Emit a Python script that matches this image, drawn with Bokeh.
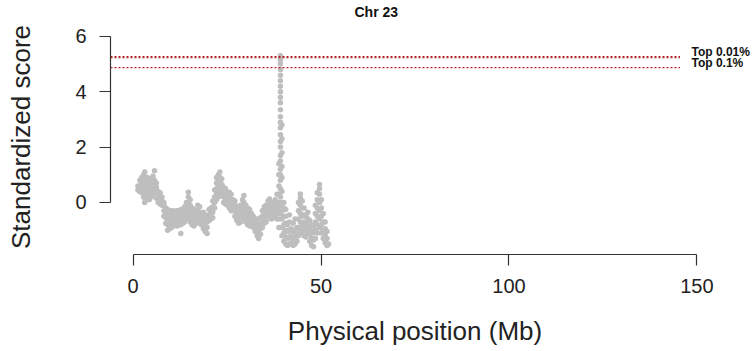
from bokeh.plotting import figure
from bokeh.models import Range1d, FixedTicker, LinearAxis
from bokeh.embed import file_html
from bokeh.resources import INLINE

# ---- data ----
positions = [1.3, 1.8, 2.3, 2.8, 3.1, 3.3, 3.8, 4.3, 4.8, 5.3, 5.7, 6.2, 6.7, 7.2, 7.7,
             8.2, 8.7, 9.2, 9.7, 10.2, 10.7, 11.2, 11.7, 12.2, 12.7, 13.2, 13.7, 14.2,
             14.7, 15.2, 15.7, 16.2, 16.7, 17.2, 17.7, 18.2, 18.7, 19.2, 19.7, 20.2,
             20.7, 21.2, 21.7, 22.2, 22.7, 23.1, 23.6, 24.1, 24.6, 25.1, 25.6, 26.1,
             26.6, 27.1, 27.6, 28.1, 28.6, 29.1, 29.5, 30.0, 30.5, 31.0, 31.5, 32.0,
             32.5, 33.0, 33.4, 33.9, 34.4, 34.9, 35.4, 35.9, 36.3, 36.8, 37.3, 37.8,
             38.3, 38.8, 39.2, 39.6, 40.1, 40.6, 41.1, 41.6, 42.1, 42.6, 43.1, 43.6,
             44.0, 44.5, 45.0, 45.5, 46.0, 46.5, 47.0, 47.5, 48.0, 48.5, 49.0, 49.6,
             50.1, 50.6, 51.1, 51.6, 52.0]

scores = [
    [0.45, 0.6],
    [0.4, 0.6, 0.8],
    [0.35, 0.55, 0.75, 0.9],
    [0.2, 0.4, 0.6, 0.8, 1.0],
    [0.0, 1.1],
    [0.1, 0.3, 0.5, 0.7, 0.9],
    [0.15, 0.35, 0.55, 0.75, 0.9],
    [0.1, 0.3, 0.5, 0.7],
    [0.2, 0.4, 0.6, 0.85],
    [0.3, 0.5, 0.7, 0.95],
    [0.8, 1.15],
    [0.15, 0.35, 0.55, 0.7],
    [0.0, 0.2, 0.4],
    [-0.05, 0.15, 0.35],
    [-0.1, 0.05, 0.2],
    [-0.5, -0.3, -0.1, 0.0],
    [-0.75, -0.55, -0.35, -0.2],
    [-1.0, -0.8, -0.6, -0.4, -0.25],
    [-0.95, -0.75, -0.55, -0.35],
    [-0.9, -0.7, -0.5, -0.3],
    [-0.85, -0.65, -0.45, -0.3],
    [-0.8, -0.6, -0.4],
    [-0.85, -0.65, -0.45, -0.3],
    [-0.8, -0.6, -0.4],
    [-1.12, -0.8, -0.6, -0.4, -0.25],
    [-0.75, -0.55, -0.35],
    [-0.7, -0.5, -0.3, -0.15],
    [-0.6, -0.4, -0.2, 0.0],
    [-0.6, -0.4, -0.2, 0.0, 0.2, 0.37],
    [-0.7, -0.5, -0.3, -0.1, 0.1],
    [-0.8, -0.6, -0.4, -0.2],
    [-0.85, -0.65, -0.45, -0.25],
    [-0.75, -0.55, -0.35],
    [-0.7, -0.5, -0.3, -0.1],
    [-0.75, -0.55, -0.35, -0.15],
    [-0.8, -0.6, -0.4],
    [-0.95, -0.75, -0.55, -0.35],
    [-1.05, -0.85, -0.65, -0.45],
    [-1.12, -0.9, -0.7, -0.5],
    [-0.65, -0.45, -0.25],
    [-0.6, -0.4, -0.2],
    [-0.55, -0.35, -0.15, 0.05],
    [-0.2, 0.0, 0.2, 0.45],
    [0.1, 0.3, 0.5, 0.7, 0.9],
    [0.2, 0.4, 0.6, 0.8, 1.0],
    [0.3, 0.5, 0.7, 0.9, 1.1],
    [0.25, 0.45, 0.65, 0.85],
    [0.0, 0.2, 0.4, 0.55],
    [-0.05, 0.15, 0.35, 0.5],
    [-0.1, 0.1, 0.3],
    [-0.2, 0.0, 0.2, 0.37],
    [-0.3, -0.1, 0.1, 0.3],
    [-0.3, -0.1, 0.1],
    [-0.5, -0.3, -0.1, 0.05],
    [-0.65, -0.45, -0.25],
    [-0.75, -0.55, -0.35, -0.15],
    [-0.7, -0.5, -0.3, -0.1],
    [-0.5, -0.3, -0.1, 0.1],
    [-0.6, -0.4, -0.2, 0.0, 0.25],
    [-0.7, -0.5, -0.3, -0.1],
    [-0.8, -0.6, -0.4, -0.2],
    [-0.85, -0.65, -0.45, -0.25],
    [-0.8, -0.6, -0.4],
    [-0.9, -0.7, -0.5],
    [-1.05, -0.85, -0.65],
    [-1.2, -1.0, -0.8, -0.6],
    [-1.3, -1.1, -0.9],
    [-1.15, -0.95, -0.75, -0.55],
    [-0.9, -0.7, -0.5, -0.3],
    [-0.75, -0.55, -0.35, -0.15],
    [-0.7, -0.5, -0.3, -0.1],
    [-0.5, -0.3, -0.1, 0.05],
    [-0.55, -0.35, -0.15, 0.13],
    [-0.6, -0.4, -0.2, 0.0],
    [-0.55, -0.35, -0.15],
    [-0.5, -0.3, -0.1, 0.1],
    [-0.6, -0.4, -0.2, 0.0, 0.3],
    [-0.9, -0.6, -0.3, 0.0, 0.3, 0.6, 1.0, 1.4],
    [-0.4, -0.1, 0.2, 0.5, 0.8, 1.0, 1.2, 1.5, 1.7, 2.0, 2.2, 2.45, 2.7, 2.9,
     3.1, 3.35, 3.6, 3.8, 4.0, 4.2, 4.4, 4.6, 4.8, 5.0, 5.15, 5.3],
    [-1.2, -0.9, -0.6, -0.3, 0.0, 0.4, 0.9, 1.3, 1.8, 2.3, 2.8],
    [-1.4, -1.1, -0.8, -0.5, -0.2, 0.0],
    [-1.5, -1.25, -1.0, -0.75, -0.5, -0.25],
    [-1.55, -1.3, -1.05, -0.8],
    [-1.5, -1.25, -1.0, -0.7, -0.45],
    [-1.45, -1.2, -0.95],
    [-1.55, -1.3, -1.05, -0.75],
    [-1.5, -1.25, -1.0, -0.6],
    [-1.4, -1.15, -0.9],
    [-1.2, -0.9, -0.6, -0.3, 0.0],
    [-1.0, -0.7, -0.4, -0.1, 0.15, 0.31],
    [-1.1, -0.8, -0.5, -0.2, 0.05],
    [-1.2, -0.95, -0.7, -0.45, -0.2],
    [-1.25, -1.0, -0.75, -0.5],
    [-1.1, -0.85, -0.6, -0.35],
    [-1.4, -1.15, -0.9, -0.65],
    [-1.55, -1.3, -1.05, -0.8],
    [-1.6, -1.35, -1.1, -0.85],
    [-1.3, -1.0, -0.7, -0.4, -0.1],
    [-1.1, -0.8, -0.5, -0.2, 0.1, 0.35],
    [-0.9, -0.6, -0.3, 0.0, 0.3, 0.5, 0.65],
    [-1.1, -0.8, -0.5, -0.2, 0.1],
    [-1.3, -1.0, -0.7, -0.4],
    [-1.45, -1.2, -0.95, -0.7],
    [-1.55, -1.3, -1.05],
    [-1.5],
]

threshold_values = [5.25, 4.87]
threshold_labels = ["Top 0.01%", "Top 0.1%"]
threshold_widths = [2.2, 1.4]

x_ticks = [0, 50, 100, 150]
y_ticks = [0, 2, 4, 6]

chart_title = "Chr 23"
x_label = "Physical position (Mb)"
y_label = "Standardized score"

# flatten to point columns
xs, ys = [], []
for pos, vals in zip(positions, scores):
    for v in vals:
        xs.append(pos)
        ys.append(v)

FONT = "Liberation Sans"
Y0, Y1 = -1.878, 6.609
PX_PER_Y = 235 / (Y1 - Y0)
LABEL_LIFT = 5 / PX_PER_Y          # threshold labels sit ~5px above their lines

p = figure(width=752, height=351, output_backend="svg", toolbar_location=None,
           x_range=Range1d(-6, 156), y_range=Range1d(Y0, Y1),
           min_border_left=110, min_border_right=31, min_border_top=19,
           min_border_bottom=97)
p.outline_line_color = None
p.xgrid.visible = False
p.ygrid.visible = False
p.background_fill_color = "white"
p.border_fill_color = "white"

# title above the frame
p.title.text = chart_title
p.title.align = "left"
p.title.offset = 244
p.title.standoff = 0
p.title.text_font = FONT
p.title.text_font_size = "14px"
p.title.text_font_style = "bold"
p.title.text_color = "#111111"

p.scatter(xs, ys, size=5.5, color="#BEBEBE", line_color=None)

seg_end = 145.5
for val, w in zip(threshold_values, threshold_widths):
    p.segment(x0=[p.x_range.start], y0=[val], x1=[seg_end], y1=[val],
              line_color="#B22222", line_width=w, line_dash="2 2")

# threshold labels: a right-hand axis without line/ticks carrying the texts
p.extra_y_ranges = {"labels": Range1d(Y0 - LABEL_LIFT, Y1 - LABEL_LIFT)}
lab_axis = LinearAxis(y_range_name="labels")
lab_axis.ticker = FixedTicker(ticks=threshold_values)
lab_axis.major_label_overrides = {v: t for v, t in zip(threshold_values, threshold_labels)}
lab_axis.axis_line_color = None
lab_axis.major_tick_line_color = None
lab_axis.minor_tick_line_color = None
lab_axis.major_tick_in = 0
lab_axis.major_tick_out = 0
lab_axis.major_label_standoff = -28
lab_axis.major_label_text_font = FONT
lab_axis.major_label_text_font_size = "12px"
lab_axis.major_label_text_font_style = "bold"
lab_axis.major_label_text_color = "#111111"
p.add_layout(lab_axis, "right")

for ax, ticks, lab in ((p.xaxis[0], x_ticks, x_label), (p.yaxis[0], y_ticks, y_label)):
    ax.ticker = FixedTicker(ticks=ticks)
    ax.bounds = (ticks[0], ticks[-1])
    ax.axis_label = lab
    ax.axis_label_text_font = FONT
    ax.axis_label_text_font_size = "26px"
    ax.axis_label_text_font_style = "normal"
    ax.axis_label_text_color = "#222222"
    ax.major_label_text_font = FONT
    ax.major_label_text_font_size = "20px"
    ax.major_label_text_color = "#222222"
    ax.axis_line_color = "#333333"
    ax.axis_line_width = 1.2
    ax.major_tick_line_color = "#333333"
    ax.major_tick_line_width = 1.2
    ax.major_tick_in = 0
    ax.major_tick_out = 11
    ax.minor_tick_line_color = None

p.xaxis[0].major_label_standoff = 13
p.xaxis[0].axis_label_standoff = 20
p.yaxis[0].major_label_standoff = 13
p.yaxis[0].axis_label_standoff = 36

open("out.html", "w").write(file_html(p, INLINE))
